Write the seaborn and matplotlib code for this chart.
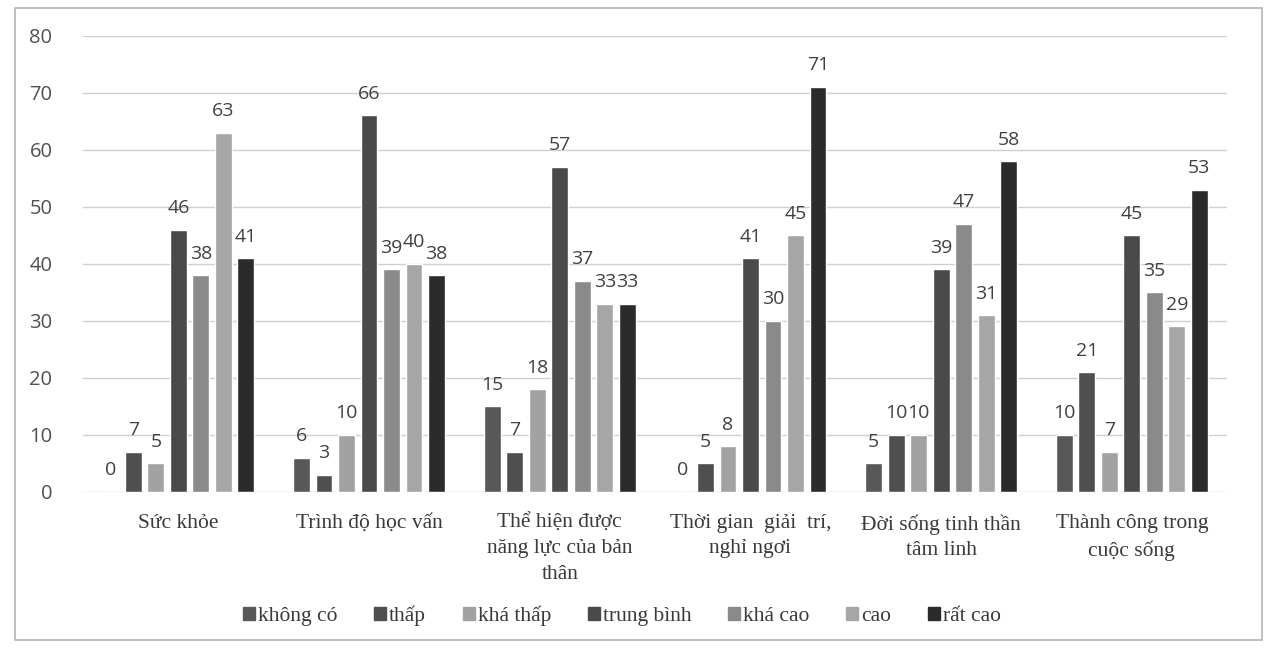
import matplotlib
matplotlib.use("Agg")
import matplotlib.pyplot as plt
import seaborn as sns
import pandas as pd
from matplotlib.patches import Rectangle

# dados
categories = ["Sức khỏe", "Trình độ học vấn", "Thể hiện được\nnăng lực của bản\nthân",
              "Thời gian  giải  trí,\nnghỉ ngơi", "Đời sống tinh thần\ntâm linh",
              "Thành công trong\ncuộc sống"]
levels = ["không có", "thấp", "khá thấp", "trung bình", "khá cao", "cao", "rất cao"]

khong_co = [0, 6, 15, 0, 5, 10]
thap = [7, 3, 7, 5, 10, 21]
kha_thap = [5, 10, 18, 8, 10, 7]
trung_binh = [46, 66, 57, 41, 39, 45]
kha_cao = [38, 39, 37, 30, 47, 35]
cao = [63, 40, 33, 45, 31, 29]
rat_cao = [41, 38, 33, 71, 58, 53]

series = [khong_co, thap, kha_thap, trung_binh, kha_cao, cao, rat_cao]
colors = ["#585858", "#4f4f4f", "#a2a2a2", "#4a4a4a", "#8a8a8a", "#a6a6a6", "#2b2b2b"]

rows = []
for lvl, vals in zip(levels, series):
    for cat, v in zip(categories, vals):
        rows.append({"cat": cat, "level": lvl, "value": v})
df = pd.DataFrame(rows)

sns.set_style("white")
fig = plt.figure(figsize=(12.77, 6.48), dpi=100)
ax = fig.add_axes([0.065, 0.241, 0.896, 0.704])

sns.barplot(data=df, x="cat", y="value", hue="level", order=categories, hue_order=levels,
            palette=colors, width=0.826, gap=0.25, saturation=1, ax=ax, legend=False,
            errorbar=None)

for cont in ax.containers:
    ax.bar_label(cont, fmt="%g", padding=9, fontsize=14, color="#404040", family="Open Sans")

ax.set_ylim(0, 80)
ax.set_xlim(-0.5, 5.5)
ax.set_yticks(range(0, 81, 10))
ax.yaxis.grid(True, color="#cfcfcf", linewidth=1)
ax.set_axisbelow(True)
for s in ax.spines.values():
    s.set_visible(False)
ax.set_xlabel("")
ax.set_ylabel("")
ax.tick_params(axis="y", length=0, pad=22, labelsize=14.5, labelcolor="#505050")
ax.tick_params(axis="x", length=0, pad=16)
for lab in ax.get_yticklabels():
    lab.set_family("Open Sans")
for lab in ax.get_xticklabels():
    lab.set_family("Liberation Serif")
    lab.set_fontsize(15.5)
    lab.set_color("#3a3a3a")
    lab.set_linespacing(1.45)

handles = [Rectangle((0, 0), 1, 1, color=c) for c in colors]
fig.legend(handles, levels, loc="center", bbox_to_anchor=(0.487, 0.05), ncol=7, frameon=False,
           handlelength=0.55, handleheight=0.55, handletextpad=0.15, columnspacing=1.7,
           prop={"family": "Liberation Serif", "size": 15.5}, labelcolor="#3a3a3a")

fig.patches.append(Rectangle((0.012, 0.012), 0.976, 0.976, transform=fig.transFigure,
                             fill=False, edgecolor="#b5b5b5", linewidth=1.2))

fig.savefig("out.png", dpi=100)
plt.close(fig)
